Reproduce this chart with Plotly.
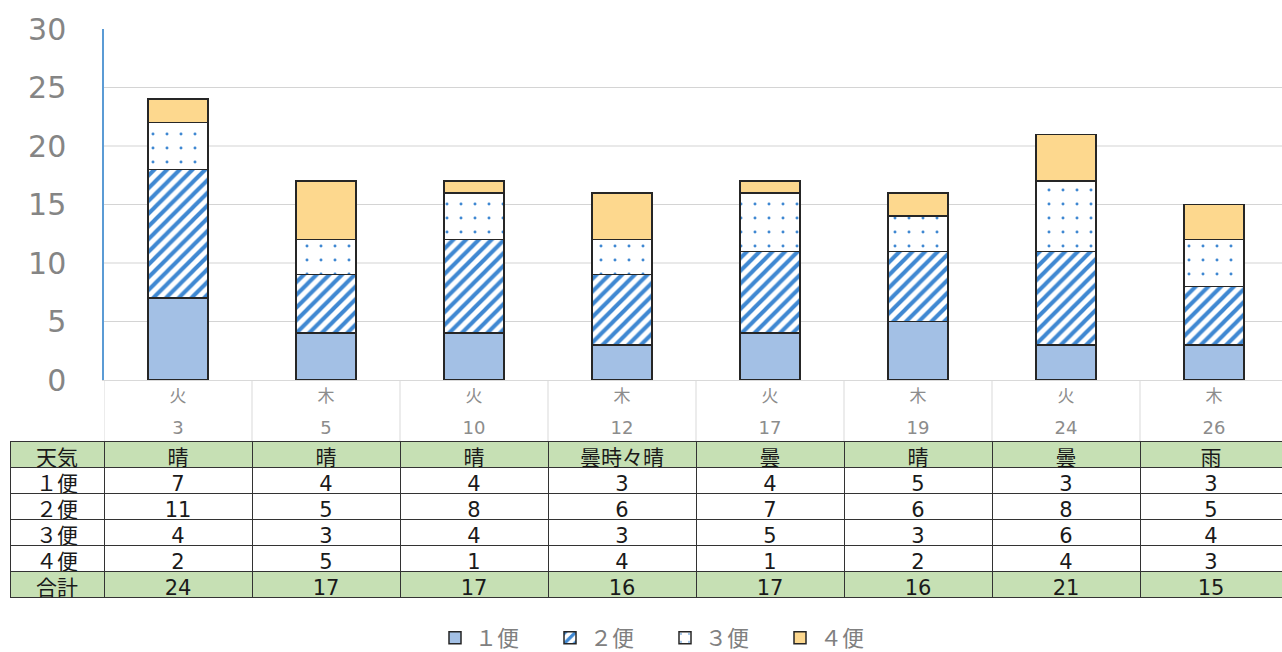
import plotly.graph_objects as go

weekday = ["火", "木", "火", "木", "火", "木", "火", "木"]
day = ["3", "5", "10", "12", "17", "19", "24", "26"]
weather = ["晴", "晴", "晴", "曇時々晴", "曇", "晴", "曇", "雨"]
series_names = ["１便", "２便", "３便", "４便"]
s1 = [7, 4, 4, 3, 4, 5, 3, 3]
s2 = [11, 5, 8, 6, 7, 6, 8, 5]
s3 = [4, 3, 4, 3, 5, 3, 6, 4]
s4 = [2, 5, 1, 4, 1, 2, 4, 3]
totals = [24, 17, 17, 16, 17, 16, 21, 15]
yticks = [0, 5, 10, 15, 20, 25, 30]

FONT = "DejaVu Sans, Noto Sans CJK JP"
CJK = "Noto Sans CJK JP"
W = 1282
H = 659  # slightly taller than the 652 window so the bottom legend needs no margin push
xs = list(range(len(day)))

EDGE = "#262626"
GREEN = "#c6e0b4"
PAT = "#3f88d2"

fig = go.Figure()
styles = [
    dict(color="#a3c0e5", pattern=dict(shape="")),
    dict(color="white", pattern=dict(shape="/", fgcolor=PAT, bgcolor="white", size=9,
                                     solidity=0.45, fgopacity=1, fillmode="replace")),
    dict(color="white", pattern=dict(shape=".", fgcolor=PAT, bgcolor="white", size=14,
                                     solidity=0.035, fgopacity=1, fillmode="replace")),
    dict(color="#fdd88e", pattern=dict(shape="")),
]
for name, vals, st in zip(series_names, [s1, s2, s3, s4], styles):
    fig.add_trace(go.Bar(
        x=xs, y=vals, name=name, width=0.405,
        marker=dict(color=st["color"], pattern=st["pattern"], line=dict(color=EDGE, width=1.5)),
        xaxis="x", yaxis="y",
    ))

top_px = 29
plot_h = H - top_px
def py(p):
    return (H - p) / plot_h

plot_left = 104
table_left = 10
colw = [plot_left - table_left] + [148] * 7 + [W - plot_left - 148 * 7]
cell_cols = [["１便", "２便", "３便", "４便", "合計"]]
for j in range(len(day)):
    cell_cols.append([str(s1[j]), str(s2[j]), str(s3[j]), str(s4[j]), str(totals[j])])
nrows = 5
fills = [["white"] * (nrows - 1) + [GREEN] for _ in range(len(day) + 1)]

fig.add_trace(go.Table(
    domain=dict(x=[table_left / W, 1], y=[py(600), py(441)]),
    columnwidth=colw,
    header=dict(values=["天気"] + weather, fill_color=GREEN, height=26,
                line=dict(color="#333333", width=1), align="center",
                font=dict(family=FONT, size=21, color="#1a1a1a")),
    cells=dict(values=cell_cols, fill_color=fills, height=26,
               line=dict(color="#333333", width=1), align="center",
               font=dict(family=FONT, size=21, color="#1a1a1a")),
))

shapes = []
for v in yticks[1:-1]:
    shapes.append(dict(type="line", xref="x domain", yref="y", x0=0, x1=1, y0=v, y1=v,
                       line=dict(color="#d4d4d4", width=1.2), layer="below"))
for i in xs:
    shapes.append(dict(type="line", xref="x", yref="paper", x0=i - 0.5, x1=i - 0.5,
                       y0=py(441), y1=py(380), line=dict(color="#d9d9d9", width=1)))

xrange = [-0.5, len(day) - 0.5 - 6 / 148]
fig.update_layout(
    width=W, height=H,
    margin=dict(l=0, r=0, t=top_px, b=0),
    barmode="stack",
    plot_bgcolor="white", paper_bgcolor="white",
    font=dict(family=FONT),
    shapes=shapes,
    xaxis=dict(domain=[plot_left / W, 1], range=xrange, tickvals=xs, ticktext=weekday,
               showline=True, linecolor="#d9d9d9", linewidth=1, showgrid=False, zeroline=False,
               ticks="", tickfont=dict(family=CJK, size=17, color="#8c8c8c"),
               ticklabelstandoff=1, automargin=False),
    xaxis2=dict(domain=[plot_left / W, 1], range=xrange, matches="x", overlaying="x", anchor="y",
                side="bottom", tickvals=xs, ticktext=day, showline=False, showgrid=False,
                zeroline=False, ticks="", tickfont=dict(family=FONT, size=18, color="#8c8c8c"),
                ticklabelstandoff=35, automargin=False),
    yaxis=dict(domain=[py(380), 1], range=[0, 30], tickvals=yticks,
               showgrid=False, zeroline=False, showline=True, linecolor="#5b9bd5", linewidth=1.5,
               tickfont=dict(family=FONT, size=30, color="#858585"),
               ticks="", ticklabelstandoff=30, automargin=False),
    legend=dict(orientation="h", x=0.5 + 24 / W, xanchor="center",
                y=0, yanchor="bottom",
                font=dict(family=FONT, size=22, color="#808080"), entrywidth=70,
                traceorder="normal"),
    showlegend=True,
)
# invisible trace to activate the day-number axis
fig.add_trace(go.Scatter(x=xs, y=[0] * len(xs), xaxis="x2", yaxis="y", mode="markers",
                         marker=dict(opacity=0), showlegend=False, hoverinfo="skip"))

fig.write_html("out.html", config={"displayModeBar": False},
               post_script="document.body.style.margin='0';document.body.style.overflow='hidden';")
